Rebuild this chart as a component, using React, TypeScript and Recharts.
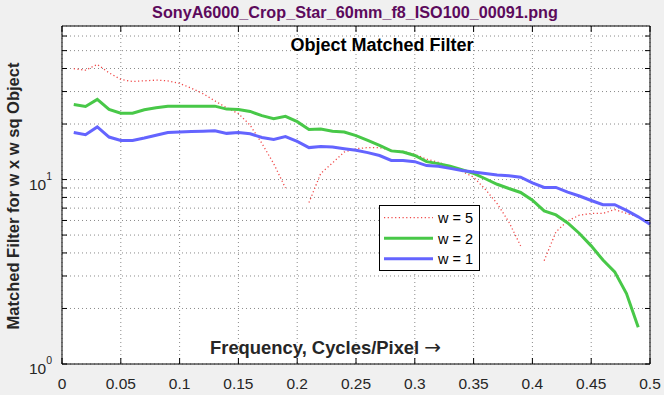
import React from "react";
import { CartesianGrid, Legend, Line, LineChart, XAxis, YAxis } from "recharts";

const FONT = "'Liberation Sans', Arial, Helvetica, sans-serif";

// spatial frequency, cycles/pixel
const freq = [
  0.01, 0.02, 0.03, 0.04, 0.05, 0.06, 0.07, 0.08, 0.09, 0.1,
  0.11, 0.12, 0.13, 0.14, 0.15, 0.16, 0.17, 0.18, 0.19, 0.2,
  0.21, 0.22, 0.23, 0.24, 0.25, 0.26, 0.27, 0.28, 0.29, 0.3,
  0.31, 0.32, 0.33, 0.34, 0.35, 0.36, 0.37, 0.38, 0.39, 0.4,
  0.41, 0.42, 0.43, 0.44, 0.45, 0.46, 0.47, 0.48, 0.49, 0.5,
];

// matched filter, w = 5 (gaps where the value drops to zero)
const w5 = [
  39.9, 39.2, 42.1, 37.9, 34.9, 34.0, 34.3, 34.6, 34.3, 33.2,
  31.3, 29.2, 26.7, 24.5, 22.8, 19.7, 15.7, 12.2, 9.0, null,
  7.5, 10.8, 12.3, 14.1, 14.7, 14.9, 14.9, 14.4, 14.2, 13.7,
  12.9, 12.4, 11.8, 11.1, 10.3, 8.85, 7.41, 5.89, 4.37, null,
  3.63, 5.2, 5.97, 6.41, 6.55, 6.55, 6.88, 6.55, 6.28, 5.8,
];

// matched filter, w = 2
const w2 = [
  25.5, 24.9, 27.2, 24.0, 22.9, 22.9, 23.9, 24.5, 25.0, 25.0,
  25.0, 25.0, 25.0, 24.1, 24.0, 23.4, 22.2, 21.4, 22.0, 20.6,
  18.7, 18.8, 18.3, 18.1, 17.3, 16.3, 15.3, 14.3, 14.1, 13.5,
  12.5, 12.2, 11.8, 11.3, 10.8, 10.1, 9.43, 8.94, 8.51, 7.73,
  6.76, 6.43, 5.82, 5.1, 4.37, 3.66, 3.16, 2.41, 1.58, null,
];

// matched filter, w = 1
const w1 = [
  18.0, 17.5, 19.3, 17.0, 16.3, 16.3, 16.8, 17.4, 18.0, 18.1,
  18.2, 18.3, 18.4, 17.8, 18.0, 17.7, 16.9, 16.5, 17.1, 16.1,
  14.9, 15.1, 15.0, 14.7, 14.4, 14.0, 13.5, 12.7, 12.7, 12.5,
  11.9, 11.8, 11.5, 11.2, 11.0, 10.8, 10.6, 10.5, 10.3, 9.6,
  9.06, 9.06, 8.54, 8.14, 7.7, 7.3, 7.3, 6.8, 6.28, 5.73,
];

const xTicks = [0, 0.05, 0.1, 0.15, 0.2, 0.25, 0.3, 0.35, 0.4, 0.45, 0.5];
const xTickLabels = ["0", "0.05", "0.1", "0.15", "0.2", "0.25", "0.3", "0.35", "0.4", "0.45", "0.5"];
const yTicks = [1, 2, 3, 4, 5, 6, 7, 8, 9, 10, 20, 30, 40, 50, 60];
const yMajor = [1, 10];
const yMajorExp = ["0", "1"];

const series = [
  { key: "w5", name: "w = 5", color: "#f04848", width: 1.3, dash: "1.2 2.5" },
  { key: "w2", name: "w = 2", color: "#48c848", width: 3, dash: undefined },
  { key: "w1", name: "w = 1", color: "#6464ff", width: 3, dash: undefined },
];

const data = freq.map((f, i) => ({ f, w5: w5[i], w2: w2[i], w1: w1[i] }));

const BottomTick = ({ x, y, payload }: any) => {
  const i = xTicks.indexOf(payload.value);
  return (
    <g>
      <line x1={x} x2={x} y1={y} y2={y - 6} stroke="#000" />
      <text x={x} y={y + 24.5} textAnchor="middle" fontSize={15.5} fontFamily={FONT} fill="#262626">
        {xTickLabels[i]}
      </text>
    </g>
  );
};

const TopTick = ({ x, y }: any) => <line x1={x} x2={x} y1={y} y2={y + 6} stroke="#000" />;

const LeftTick = ({ x, y, payload }: any) => {
  const m = yMajor.indexOf(payload.value);
  return (
    <g>
      <line x1={x} x2={x + 5} y1={y} y2={y} stroke="#000" />
      {m >= 0 && (
        <text x={x - 10} y={y + 10} textAnchor="end" fontSize={15.5} fontFamily={FONT} fill="#262626">
          10
          <tspan dy={-10} fontSize={10.5}>
            {yMajorExp[m]}
          </tspan>
        </text>
      )}
    </g>
  );
};

const RightTick = ({ x, y }: any) => <line x1={x} x2={x - 5} y1={y} y2={y} stroke="#000" />;

const LegendBox = () => (
  <svg width={101} height={66} style={{ display: "block" }}>
    <rect x={0.5} y={0.5} width={100} height={65} fill="#fff" stroke="#000" />
    {series.map((s, i) => {
      const cy = 12.7 + i * 20.5;
      return (
        <g key={s.key}>
          <line x1={5} x2={54} y1={cy} y2={cy} stroke={s.color} strokeWidth={s.width} strokeDasharray={s.dash} />
          <text x={59} y={cy + 5.6} fontSize={14.5} fontFamily={FONT} fill="#000">
            {s.name}
          </text>
        </g>
      );
    })}
  </svg>
);

export default function App() {
  return (
    <div style={{ position: "absolute", left: 0, top: 0, width: 664, height: 395, background: "#f0f0f0" }}>
      <LineChart width={664} height={395} data={data} margin={{ top: 25, right: 13, bottom: 0, left: 0 }}>
        <CartesianGrid
          xAxisId="bottom"
          yAxisId="left"
          fill="#fff"
          fillOpacity={1}
          stroke="#8a8a8a"
          strokeDasharray="1 3"
        />
        <XAxis
          xAxisId="bottom"
          dataKey="f"
          type="number"
          domain={[0, 0.5]}
          ticks={xTicks}
          interval={0}
          height={31}
          tickSize={0}
          tickMargin={0}
          tickLine={false}
          axisLine={{ stroke: "#000" }}
          tick={<BottomTick />}
        />
        <XAxis
          xAxisId="top"
          orientation="top"
          dataKey="f"
          type="number"
          domain={[0, 0.5]}
          ticks={xTicks}
          interval={0}
          height={1}
          tickSize={0}
          tickMargin={0}
          tickLine={false}
          axisLine={{ stroke: "#000" }}
          tick={<TopTick />}
        />
        <YAxis
          yAxisId="left"
          type="number"
          scale="log"
          domain={[1, 68]}
          allowDataOverflow
          ticks={yTicks}
          interval={0}
          width={62}
          tickSize={0}
          tickMargin={0}
          tickLine={false}
          axisLine={{ stroke: "#000" }}
          tick={<LeftTick />}
        />
        <YAxis
          yAxisId="right"
          orientation="right"
          type="number"
          scale="log"
          domain={[1, 68]}
          allowDataOverflow
          ticks={yTicks}
          interval={0}
          width={1}
          tickSize={0}
          tickMargin={0}
          tickLine={false}
          axisLine={{ stroke: "#000" }}
          tick={<RightTick />}
        />
        <Legend
          layout="vertical"
          align="center"
          verticalAlign="middle"
          content={<LegendBox />}
          wrapperStyle={{ left: 379, top: 205, width: 101, height: 66 }}
        />
        {series.map((s) => (
          <Line
            key={s.key}
            xAxisId="bottom"
            yAxisId="left"
            dataKey={s.key}
            name={s.name}
            type="linear"
            stroke={s.color}
            strokeWidth={s.width}
            strokeDasharray={s.dash}
            dot={false}
            activeDot={false}
            connectNulls={false}
            isAnimationActive={false}
          />
        ))}
      </LineChart>
      <svg
        width={664}
        height={395}
        style={{ position: "absolute", left: 0, top: 0, pointerEvents: "none" }}
      >
        <text x={355} y={18} textAnchor="middle" fontSize={16.2} fontWeight="bold" fontFamily={FONT} fill="#5c0a5c">
          SonyA6000_Crop_Star_60mm_f8_ISO100_00091.png
        </text>
        <text x={382} y={50.5} textAnchor="middle" fontSize={18} fontWeight="bold" fontFamily={FONT} fill="#000">
          Object Matched Filter
        </text>
        <text x={210} y={353.5} fontSize={18.4} fontWeight="bold" fontFamily={FONT} fill="#262626">
          Frequency, Cycles/Pixel{" "}
          <tspan fontWeight="normal" fontFamily="'DejaVu Sans', sans-serif" fontSize={20}>
            →
          </tspan>
        </text>
        <text
          x={0}
          y={0}
          transform="translate(19 196) rotate(-90)"
          textAnchor="middle"
          fontSize={16.5}
          fontWeight="bold"
          fontFamily={FONT}
          fill="#262626"
        >
          Matched Filter for w x w sq Object
        </text>
      </svg>
    </div>
  );
}
